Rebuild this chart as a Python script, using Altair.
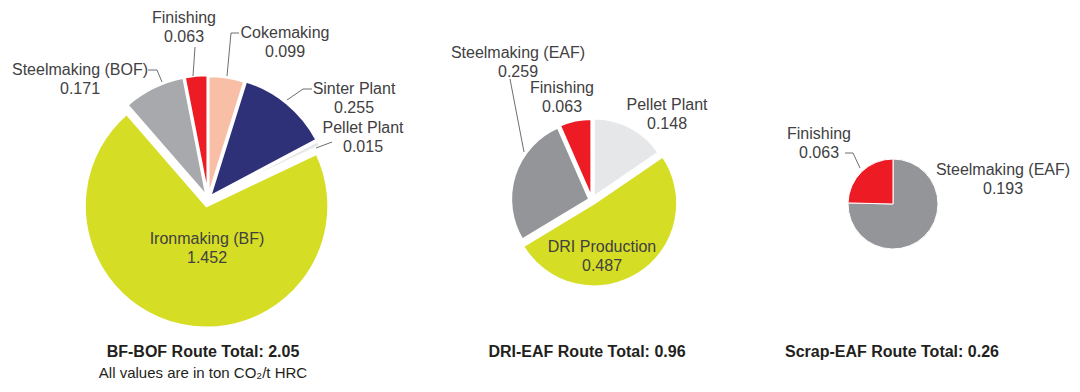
import math
import altair as alt
import pandas as pd

# ---------------- data ----------------
bf_categories = ["Cokemaking", "Sinter Plant", "Pellet Plant", "Ironmaking (BF)",
                 "Steelmaking (BOF)", "Finishing"]
bf_values = [0.099, 0.255, 0.015, 1.452, 0.171, 0.063]

dri_categories = ["Pellet Plant", "DRI Production", "Steelmaking (EAF)", "Finishing"]
dri_values = [0.148, 0.487, 0.259, 0.063]

scrap_categories = ["Steelmaking (EAF)", "Finishing"]
scrap_values = [0.193, 0.063]

route_names = ["BF-BOF", "DRI-EAF", "Scrap-EAF"]
route_totals = ["2.05", "0.96", "0.26"]
unit_note = "All values are in ton CO\u2082/t HRC"

# ---------------- style / layout ----------------
PAGE = 8
W, H = 1064, 376
FONT = "Liberation Sans"
TEXT_COLOR = "#414042"

palette = {
    "Cokemaking": "#f8bfa6",
    "Sinter Plant": "#2f3178",
    "Pellet Plant": "#e6e7e8",
    "Ironmaking (BF)": "#d5dd24",
    "DRI Production": "#d5dd24",
    "Steelmaking (BOF)": "#a7a9ac",
    "Steelmaking (EAF)": "#939598",
    "Finishing": "#ed1c24",
}

pies = [
    dict(cats=bf_categories, vals=bf_values, cx=208, cy=199, r=121, sw=2.5,
         explode={"Cokemaking": 2, "Sinter Plant": 3, "Pellet Plant": 3,
                  "Ironmaking (BF)": 7, "Steelmaking (BOF)": 3, "Finishing": 3},
         radius={"Ironmaking (BF)": 122},
         labels={"Finishing": (184, 18), "Cokemaking": (285, 33),
                 "Steelmaking (BOF)": (80, 70), "Sinter Plant": (354, 89),
                 "Pellet Plant": (363, 128), "Ironmaking (BF)": (207, 239)},
         title=(203, 352)),
    dict(cats=dri_categories, vals=dri_values, cx=592, cy=200, r=78, sw=2,
         explode={"Pellet Plant": 4, "DRI Production": 4,
                  "Steelmaking (EAF)": 3, "Finishing": 3},
         radius={"DRI Production": 83},
         labels={"Steelmaking (EAF)": (518, 53), "Finishing": (562, 88),
                 "Pellet Plant": (667, 105), "DRI Production": (602, 247)},
         title=(587, 352)),
    dict(cats=scrap_categories, vals=scrap_values, cx=893, cy=204, r=45, sw=1,
         explode={}, radius={},
         labels={"Finishing": (819, 134), "Steelmaking (EAF)": (1003, 170)},
         title=(892, 352)),
]
note_pos = (203, 373)
LINE_GAP = 19

leaders = [
    [(195, 47), (193, 76)],
    [(239, 33), (231, 33), (227, 76)],
    [(148, 70), (157, 70), (162, 82)],
    [(312, 89), (303, 89), (287, 100)],
    [(332, 142), (316, 148)],
    [(510, 79), (524, 152)],
    [(845, 153), (853, 153), (860, 168)],
]

# ---------------- build ----------------
color_scale = alt.Scale(domain=list(palette.keys()), range=list(palette.values()))

layers = []
label_rows = []
title_rows = []
for pi, p in enumerate(pies):
    total = sum(p["vals"])
    rows = []
    c = 0.0
    for k, (cat, v) in enumerate(zip(p["cats"], p["vals"])):
        c0, c1 = c, c + v
        c = c1
        a = 2 * math.pi * (c0 + c1) / 2 / total
        e = p["explode"].get(cat, 0)
        rows.append(dict(cat=cat, value=v, c0=c0, c1=c1, idx=k,
                         rad=p["radius"].get(cat, p["r"]),
                         px=p["cx"] + e * math.sin(a) - PAGE,
                         py=p["cy"] - e * math.cos(a) - PAGE))
        lx, ly = p["labels"][cat]
        label_rows.append(dict(x=lx - PAGE, y=ly - PAGE, t=cat))
        label_rows.append(dict(x=lx - PAGE, y=ly + LINE_GAP - PAGE, t=f"{v:.3f}"))
    df = pd.DataFrame(rows)
    arc = alt.Chart(df).mark_arc(stroke="white", strokeWidth=p["sw"]).encode(
        theta=alt.Theta("c0:Q", scale=alt.Scale(domain=[0, total],
                                                range=[0, 2 * math.pi])),
        theta2=alt.Theta2("c1:Q"),
        radius=alt.Radius("rad:Q", scale=None),
        color=alt.Color("cat:N", scale=color_scale, legend=None),
        x=alt.X("px:Q", scale=None, axis=None),
        y=alt.Y("py:Q", scale=None, axis=None),
    )
    layers.append(arc)
    tx, ty = p["title"]
    title_rows.append(dict(x=tx - PAGE, y=ty - PAGE,
                           t=f"{route_names[pi]} Route Total: {route_totals[pi]}"))

lead_rows = []
for li, pts in enumerate(leaders):
    for k, (x, y) in enumerate(pts):
        lead_rows.append(dict(id=li, k=k, x=x - PAGE, y=y - PAGE))

lines = alt.Chart(pd.DataFrame(lead_rows)).mark_line(
    color="#6d6e71", strokeWidth=1).encode(
    x=alt.X("x:Q", scale=None, axis=None),
    y=alt.Y("y:Q", scale=None, axis=None),
    detail="id:N", order="k:Q")

labels = alt.Chart(pd.DataFrame(label_rows)).mark_text(
    font=FONT, fontSize=16, color=TEXT_COLOR, align="center",
    baseline="middle").encode(
    x=alt.X("x:Q", scale=None, axis=None),
    y=alt.Y("y:Q", scale=None, axis=None),
    text="t:N")

titles = alt.Chart(pd.DataFrame(title_rows)).mark_text(
    font=FONT, fontSize=16, fontWeight="bold", color="#231f20",
    align="center", baseline="middle").encode(
    x=alt.X("x:Q", scale=None, axis=None),
    y=alt.Y("y:Q", scale=None, axis=None),
    text="t:N")

note = alt.Chart(pd.DataFrame([dict(x=note_pos[0] - PAGE, y=note_pos[1] - PAGE,
                                    t=unit_note)])).mark_text(
    font=FONT, fontSize=15, color="#231f20",
    align="center", baseline="middle").encode(
    x=alt.X("x:Q", scale=None, axis=None),
    y=alt.Y("y:Q", scale=None, axis=None),
    text="t:N")

chart = alt.layer(*layers, lines, labels, titles, note).resolve_scale(
    theta="independent").properties(width=W, height=H, padding=0).configure_view(
    stroke=None)

chart.save("out.html", embed_options={"renderer": "svg", "actions": False})
